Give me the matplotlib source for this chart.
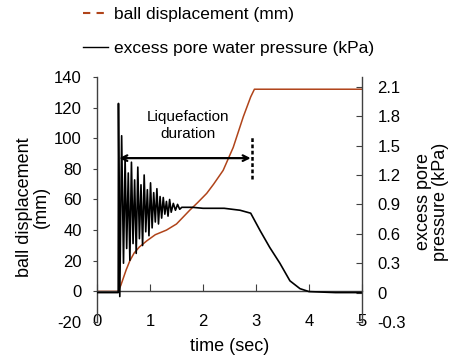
import numpy as np
import matplotlib
matplotlib.use('Agg')
import matplotlib.pyplot as plt
from matplotlib.lines import Line2D

plt.rcParams['font.family'] = ['Liberation Sans', 'DejaVu Sans']
plt.rcParams['axes.unicode_minus'] = False

# Datos
t_bola = [0.0, 0.40, 0.45, 0.50, 0.55, 0.62, 0.70, 0.80, 0.94, 1.10, 1.31, 1.50,
          1.75, 1.90, 2.07, 2.20, 2.38, 2.57, 2.76, 2.90, 2.97, 3.05, 5.0]
desplazamiento = [0, 0, 4, 9, 14, 20, 25, 29, 33, 37, 40, 44,
                  53, 58, 64, 70, 79, 94, 114, 127, 132, 132, 132]

t_presion = [0.0, 0.40, 0.405, 0.43, 0.465, 0.50, 0.53, 0.56, 0.59, 0.62,
             0.65, 0.68, 0.71, 0.74, 0.77, 0.80, 0.83, 0.86, 0.89, 0.92,
             0.95, 0.98, 1.01, 1.04, 1.07, 1.10, 1.13, 1.16, 1.19, 1.22,
             1.25, 1.28, 1.31, 1.34, 1.37, 1.40, 1.44, 1.48, 1.52, 1.56,
             1.60, 1.80, 2.00, 2.40, 2.70, 2.90, 2.95, 3.08, 3.26, 3.45,
             3.64, 3.83, 4.00, 4.50, 5.00]
presion = [0.0, 0.0, 1.93, -0.04, 1.60, 0.30, 1.38, 0.45, 1.22, 0.33,
           1.33, 0.50, 1.15, 0.40, 1.28, 0.55, 1.10, 0.48, 1.20, 0.62,
           1.05, 0.58, 1.12, 0.66, 1.02, 0.72, 1.06, 0.70, 0.98, 0.76,
           0.97, 0.80, 0.93, 0.78, 0.95, 0.82, 0.91, 0.84, 0.90, 0.85,
           0.87, 0.87, 0.86, 0.86, 0.84, 0.81, 0.76, 0.63, 0.46, 0.30,
           0.12, 0.04, 0.01, 0.0, 0.0]

ticks_x = [0, 1, 2, 3, 4, 5]
ticks_izq = [-20, 0, 20, 40, 60, 80, 100, 120, 140]
ticks_der = [-0.3, 0, 0.3, 0.6, 0.9, 1.2, 1.5, 1.8, 2.1]
etiquetas_der = ['-0.3', '0', '0.3', '0.6', '0.9', '1.2', '1.5', '1.8', '2.1']

cafe = '#B0441A'
gris = '#404040'

fig = plt.figure(figsize=(4.52, 3.58), dpi=100)
ax = fig.add_axes([0.2146, 0.1006, 0.5863, 0.6844])
ax2 = ax.twinx()

# Desplazamiento de la bola (eje izquierdo)
ax.plot(t_bola, desplazamiento, color=cafe, lw=1.1)
ax.set_xlim(0, 5)
ax.set_ylim(-20, 140)
ax.set_yticks(ticks_izq)
ax.set_xticks(ticks_x)

# Presion de poros (eje derecho)
ax2.plot(t_presion, presion, color='black', lw=1.2)
ax2.set_ylim(-0.3, 2.2)
ax2.set_yticks(ticks_der)
ax2.set_yticklabels(etiquetas_der)

# Ejes al estilo Excel
ax.spines['top'].set_visible(False)
ax2.spines['top'].set_visible(False)
ax.spines['right'].set_visible(False)
ax2.spines['left'].set_visible(False)
ax2.spines['bottom'].set_visible(False)
ax.spines['bottom'].set_position(('data', 0))
for s in ['left', 'bottom']:
    ax.spines[s].set_color(gris)
    ax.spines[s].set_linewidth(1)
ax2.spines['right'].set_color(gris)
ax2.spines['right'].set_linewidth(1)

ax.tick_params(axis='x', direction='in', length=5, pad=16, labelsize=12, color=gris)
ax.tick_params(axis='y', direction='out', length=3, pad=8, labelsize=12, color=gris)
ax2.tick_params(axis='y', direction='in', length=4, pad=11, labelsize=12, color=gris)

ax.set_xlabel('time (sec)', fontsize=13)
ax.xaxis.set_label_coords(0.5, -0.065)
ax.set_ylabel('ball displacement\n(mm)', fontsize=13, linespacing=1.0)
ax.yaxis.set_label_coords(-0.178, 0.47)
ax2.set_ylabel('excess pore\npressure (kPa)', fontsize=13, linespacing=1.0)
ax2.yaxis.set_label_coords(1.2, 0.49)

# Duracion de la licuefaccion
ax2.annotate('', xy=(0.42, 87), xytext=(2.90, 87), xycoords=ax.transData,
             textcoords=ax.transData,
             arrowprops=dict(arrowstyle='<->', lw=1.6, color='black',
                             shrinkA=0, shrinkB=0, mutation_scale=10))
ax2.plot([2.92, 2.92], [74 / 64.0, 102 / 64.0], color='black', lw=1.8,
         ls=(0, (1.5, 1)))
ax2.text(1.72, 109 / 64.0, 'Liquefaction\nduration', ha='center', va='center',
         fontsize=11, linespacing=1.3)

handles = [Line2D([], [], color=cafe, lw=1.5, ls=(0, (3.5, 3))),
           Line2D([], [], color='black', lw=1.0)]
labels = ['ball displacement (mm)', 'excess pore water pressure (kPa)']
fig.legend(handles, labels, loc='upper left', bbox_to_anchor=(0.1836, 0.981),
           frameon=False, fontsize=12.5, borderpad=0, borderaxespad=0,
           handlelength=1.45, handletextpad=0.35, labelspacing=1.1)

fig.savefig('out.png', dpi=100)
